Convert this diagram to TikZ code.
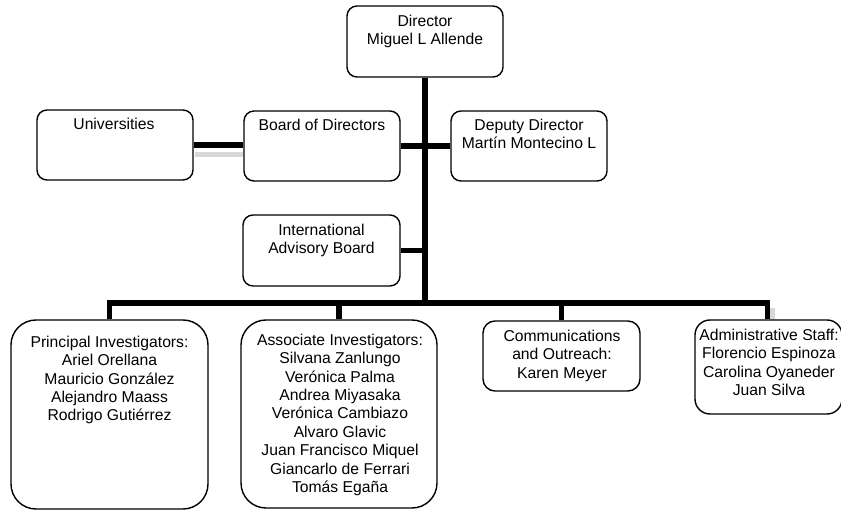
\documentclass[tikz,border=0pt]{standalone}
\usepackage{fontspec}
\setmainfont{Liberation Sans}
\begin{document}
\begin{tikzpicture}[x=1pt,y=-1pt,
  box/.style={draw, line width=1.4pt, rounded corners=#1, inner sep=0pt, fill=white},
  box/.default=10pt,
  conn/.style={line width=5.5pt},
  shade/.style={line width=5pt, black!22, opacity=0.7},
  txt/.style={anchor=north, align=center, inner sep=0pt, font=\fontsize{15.7}{18.4}\selectfont}]
\useasboundingbox (0,0) rectangle (841,510);

% shadows
\draw[shade] (195,155) -- (243,155);
\draw[shade] (772,308) -- (772,322);

% connectors (drawn first, boxes on top)
\node[box, minimum width=156pt, minimum height=71pt] (dir) at (425,41.5) {};
\coordinate (bar) at (425,303);
\node[box, minimum width=156pt, minimum height=70pt] (univ) at (115,145) {};
\node[box, minimum width=156pt, minimum height=70pt] (board) at (322,146) {};
\node[box, minimum width=156pt, minimum height=70pt] (dep) at (529,146) {};
\node[box, minimum width=157pt, minimum height=71pt] (iab) at (321.5,250.5) {};
\node[box=25pt, minimum width=197pt, minimum height=189pt] (pi) at (109.5,414.5) {};
\node[box=25pt, minimum width=196pt, minimum height=188pt] (ai) at (339,414) {};
\node[box=12pt, minimum width=157pt, minimum height=70pt] (com) at (561.5,356) {};
\node[box=15pt, minimum width=147pt, minimum height=94pt] (adm) at (768.5,367) {};

\begin{scope}[on background layer/.style={}]
\draw[conn] (dir.south) -- (bar);
\draw[conn] (dep.west) -- (dep.west -| dir.south);
\draw[conn] (board.east) -- (board.east -| dir.south);
\draw[conn] (iab.east) -- (iab.east -| dir.south);
\draw[conn] (univ.east) -- (univ.east -| board.west);
\draw[conn] (pi.north) |- (bar);
\draw[conn] (ai.north) |- (bar);
\draw[conn] (com.north) |- (bar);
\draw[conn] ([xshift=-1pt]adm.north) |- (bar);
\end{scope}

% texts
\node[txt] (dirt) at (425,14.7) {Director\\Miguel L Allende};
\node[txt] (univt) at (114,117.7) {Universities};
\node[txt] (boardt) at (322,118.7) {Board of Directors};
\node[txt] (dept) at (529,118.7) {Deputy Director\\Martín Montecino L};
\node[txt] (iabt) at (321.5,223.7) {International\\Advisory Board};
\node[txt] (pit) at (109.5,335.7) {Principal Investigators:\\Ariel Orellana\\Mauricio González\\Alejandro Maass\\Rodrigo Gutiérrez};
\node[txt] (ait) at (340,333.7) {Associate Investigators:\\Silvana Zanlungo\\Verónica Palma\\Andrea Miyasaka\\Verónica Cambiazo\\Alvaro Glavic\\Juan Francisco Miquel\\Giancarlo de Ferrari\\Tomás Egaña};
\node[txt] (comt) at (562,329.7) {Communications\\and Outreach:\\Karen Meyer};
\node[txt] (admt) at (769,328.7) {Administrative Staff:\\Florencio Espinoza\\Carolina Oyaneder\\Juan Silva};
\end{tikzpicture}
\end{document}
